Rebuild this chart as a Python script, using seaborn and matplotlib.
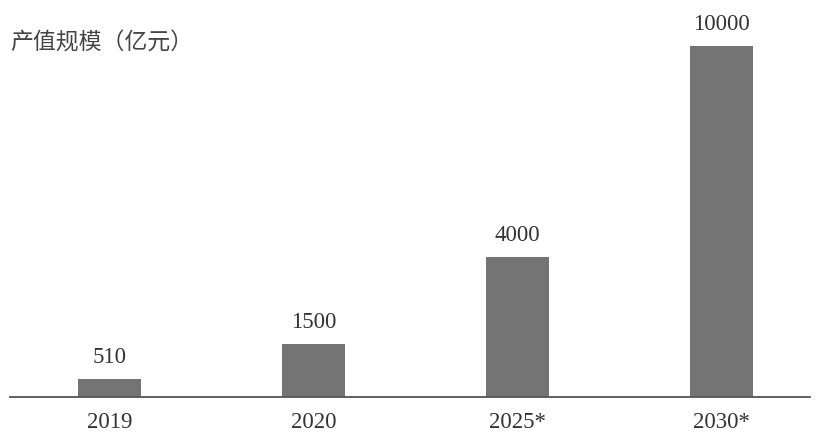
import matplotlib
matplotlib.use("Agg")
import matplotlib.pyplot as plt
import seaborn as sns
import pandas as pd

years = ["2019", "2020", "2025*", "2030*"]
output_value = [510, 1500, 4000, 10000]
value_labels = ["510", "1500", "4000", "10000"]
y_title = "产值规模（亿元）"

sns.set_theme(style="white")
plt.rcParams["font.family"] = ["Liberation Serif", "Noto Sans CJK SC", "DejaVu Sans"]

df = pd.DataFrame({"year": years, "value": output_value})

W, H = 821, 440
fig = plt.figure(figsize=(W / 100, H / 100), dpi=100)
left_px, right_px, base_px, top_px = 10, 810, 397, 10
ax = fig.add_axes([left_px / W, (H - base_px) / H,
                   (right_px - left_px) / W, (base_px - top_px) / H])

sns.barplot(data=df, x="year", y="value", color="#747474", width=0.31,
            saturation=1, ax=ax, edgecolor="none")

step = 204.0
ax.set_xlim(-(109.5 - left_px) / step, 3 + (right_px - 721.5) / step)
ax.set_ylim(0, 10000 * (base_px - top_px) / 351.0)

for i, (v, lab) in enumerate(zip(output_value, value_labels)):
    ax.annotate(lab, (i, v), xytext=(0, 11.5), textcoords="offset points",
                ha="center", va="baseline", fontsize=16.5, color="#333333",
                family="Liberation Serif")

for s in ["top", "right", "left"]:
    ax.spines[s].set_visible(False)
ax.spines["bottom"].set_color("#555555")
ax.spines["bottom"].set_linewidth(1.3)
ax.set_yticks([])
ax.set_xlabel("")
ax.set_ylabel("")
ax.tick_params(axis="x", length=0, pad=11, labelsize=16.5, labelcolor="#333333")
for t in ax.get_xticklabels():
    t.set_family("Liberation Serif")

fig.text(10 / W, 1 - 43 / H, y_title, ha="left", va="center", fontsize=16.5,
         color="#444444", family=["Noto Sans CJK SC", "DejaVu Sans"])

fig.savefig("out.png", dpi=100, facecolor="white")
